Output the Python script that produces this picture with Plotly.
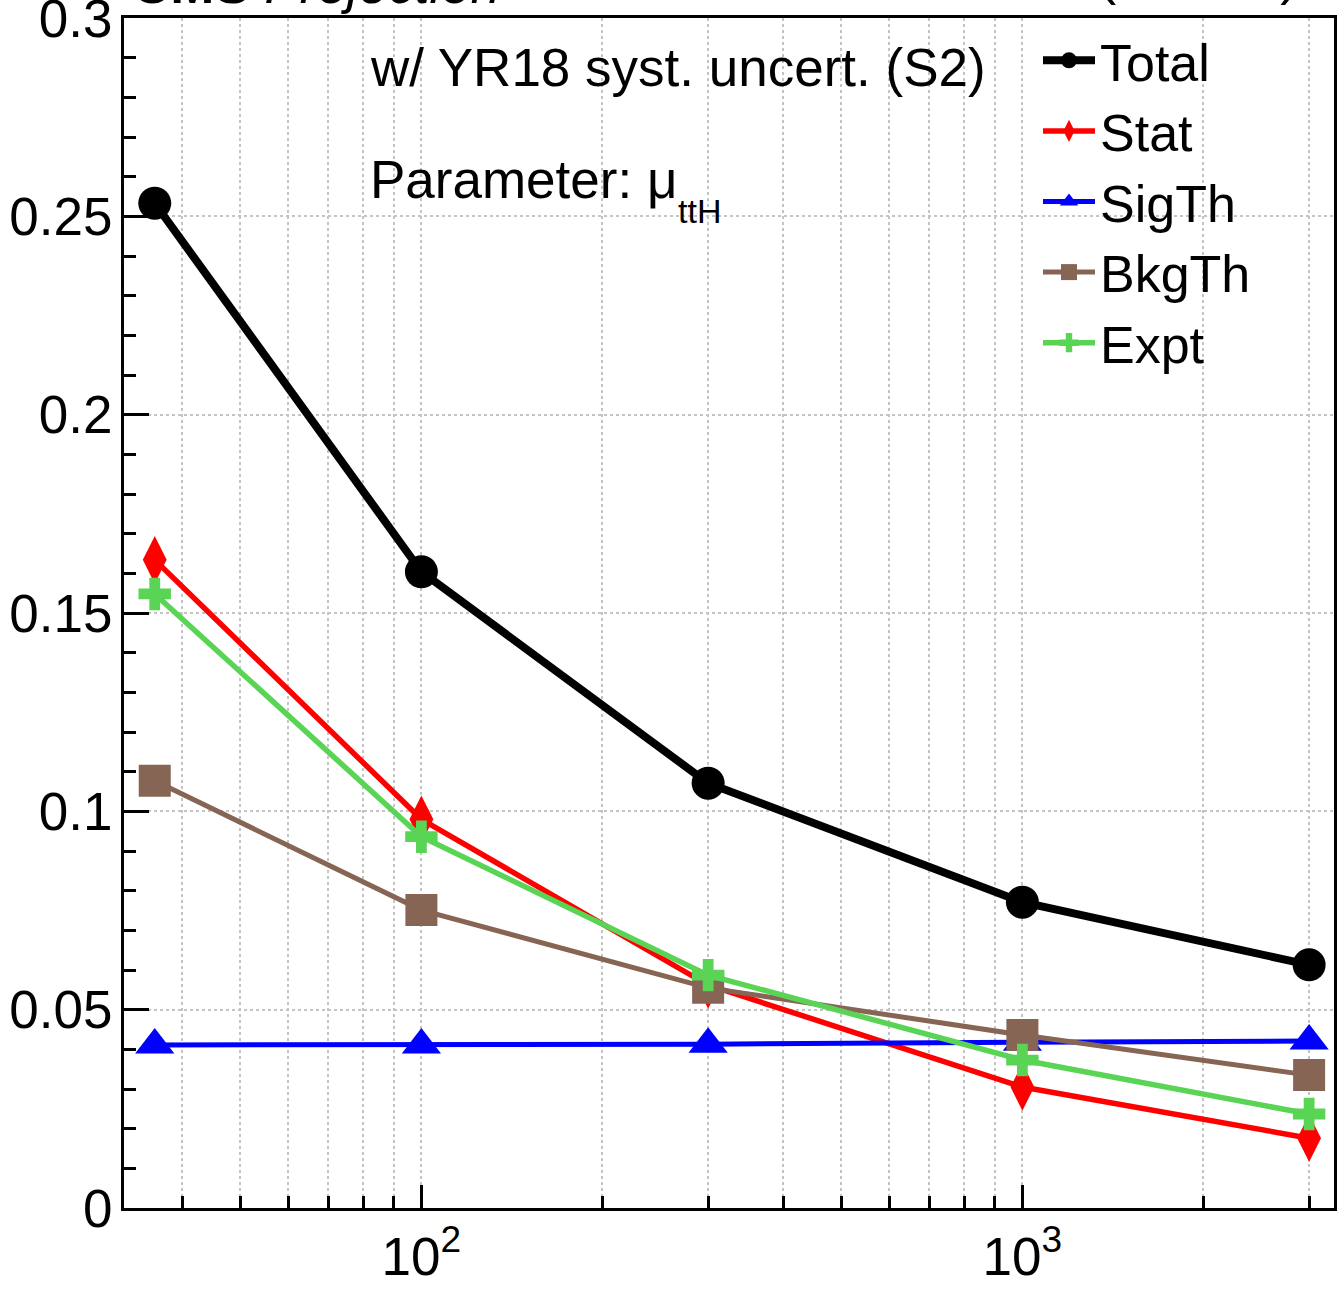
import numpy as np
import plotly.graph_objects as go

# Integrated luminosity points (fb^-1)
lumi = [36, 100, 300, 1000, 3000]

# Relative uncertainty on mu_ttH
total = [0.2533, 0.1604, 0.1071, 0.0771, 0.0613]
stat = [0.1634, 0.0980, 0.0562, 0.0305, 0.0176]
sigth = [0.0411, 0.0411, 0.0413, 0.0418, 0.0421]
bkgth = [0.1077, 0.0751, 0.0555, 0.0436, 0.0335]
expt = [0.1548, 0.0936, 0.0587, 0.0373, 0.0237]

series_names = ["Total", "Stat", "SigTh", "BkgTh", "Expt"]
series_values = [total, stat, sigth, bkgth, expt]
series_colors = ["#000000", "#ff0000", "#0000ff", "#866554", "#59d454"]
series_symbols = ["circle", "diamond-tall", "triangle-up", "square", "cross"]
series_msize = [33, 34, 34, 32, 27]
series_lw = [8, 5.5, 5, 5, 5.5]

x_major = [100, 1000]
x_major_text = ["10<sup>2</sup>", "10<sup>3</sup>"]
x_minor = [40, 50, 60, 70, 80, 90, 200, 300, 400, 500, 600, 700, 800, 900, 2000, 3000]
y_ticks = [0, 0.05, 0.1, 0.15, 0.2, 0.25, 0.3]
y_tick_text = ["0", "0.05", "0.1", "0.15", "0.2", "0.25", "0.3"]

FONT = "Liberation Sans, Arial, Helvetica, sans-serif"
FS = 53

fig = go.Figure()
for name, vals, col, sym, ms, lw in zip(series_names, series_values, series_colors,
                                        series_symbols, series_msize, series_lw):
    fig.add_trace(go.Scatter(
        x=lumi, y=vals, name=name, mode="lines+markers",
        line=dict(color=col, width=lw),
        marker=dict(color=col, symbol=sym, size=ms, line=dict(width=0)),
        cliponaxis=False,
    ))

L, T, W, H = 124, 18, 1210, 1190


def px(xp):
    return (xp - L) / W


def py(yp):
    return (T + H - yp) / H


grid_col = "#c4c4c4"
fig.update_layout(
    width=1337, height=1292,
    margin=dict(l=L, r=1337 - L - W, t=T, b=1292 - T - H, autoexpand=False),
    paper_bgcolor="white", plot_bgcolor="white",
    font=dict(family=FONT, size=FS, color="black"),
    showlegend=True,
    legend=dict(
        x=px(1038), y=py(20), xanchor="left", yanchor="top",
        bgcolor="rgba(0,0,0,0)", borderwidth=0,
        font=dict(family=FONT, size=52, color="black"),
        itemsizing="trace", tracegroupgap=0, itemwidth=52,
    ),
    xaxis=dict(
        type="log", range=[np.log10(32), np.log10(3300)], automargin=False,
        tickmode="array", tickvals=x_major, ticktext=x_major_text,
        ticks="inside", ticklen=23, tickwidth=3, tickcolor="black",
        showline=True, linewidth=3, linecolor="black", mirror=True,
        showgrid=True, gridcolor=grid_col, gridwidth=2, griddash="dot",
        zeroline=False, ticklabeloverflow="allow",
        tickfont=dict(family=FONT, size=FS),
        minor=dict(tickmode="array", tickvals=x_minor, ticks="inside", ticklen=12,
                   tickwidth=3, tickcolor="black", showgrid=True,
                   gridcolor=grid_col, gridwidth=2, griddash="dot"),
    ),
    yaxis=dict(
        range=[0, 0.3], automargin=False,
        tickmode="array", tickvals=y_ticks, ticktext=y_tick_text,
        ticks="inside", ticklen=25, tickwidth=3, tickcolor="black",
        showline=True, linewidth=3, linecolor="black", mirror=True,
        showgrid=True, gridcolor=grid_col, gridwidth=2, griddash="dot",
        zeroline=False, ticklabeloverflow="allow",
        tickfont=dict(family=FONT, size=FS),
        ticklabelstandoff=-2,
        minor=dict(dtick=0.01, ticks="inside", ticklen=12, tickwidth=3,
                   tickcolor="black", showgrid=False),
    ),
    shapes=[
        dict(type="rect", xref="paper", yref="paper", layer="between",
             x0=px(330), x1=px(1003), y0=py(250), y1=1.0,
             fillcolor="white", line=dict(width=0)),
        dict(type="rect", xref="paper", yref="paper", layer="between",
             x0=px(1031), x1=px(1305), y0=py(370), y1=1.0,
             fillcolor="white", line=dict(width=0)),
    ],
    annotations=[
        dict(text="w/ YR18 syst. uncert. (S2)", xref="paper", yref="paper",
             x=px(368), y=py(68), xanchor="left", yanchor="middle",
             showarrow=False, font=dict(family=FONT, size=FS)),
        dict(text="Parameter: μ", xref="paper", yref="paper",
             x=px(368), y=py(180), xanchor="left", yanchor="middle",
             showarrow=False, font=dict(family=FONT, size=FS)),
        dict(text="ttH", xref="paper", yref="paper",
             x=px(676), y=py(211), xanchor="left", yanchor="middle",
             showarrow=False, font=dict(family=FONT, size=34)),
        dict(text="<b>CMS</b> <i>Projection</i>", xref="paper", yref="paper",
             x=px(130), y=1.0, xanchor="left", yanchor="bottom", yshift=2,
             showarrow=False, font=dict(family=FONT, size=FS)),
        dict(text="3000 fb<sup>-1</sup> (14 TeV)", xref="paper", yref="paper",
             x=px(1300), y=1.0, xanchor="right", yanchor="bottom", yshift=11,
             showarrow=False, font=dict(family=FONT, size=FS)),
    ],
)

fig.write_html("out.html", config={"displayModeBar": False},
               post_script="document.body.style.margin='0px';")
